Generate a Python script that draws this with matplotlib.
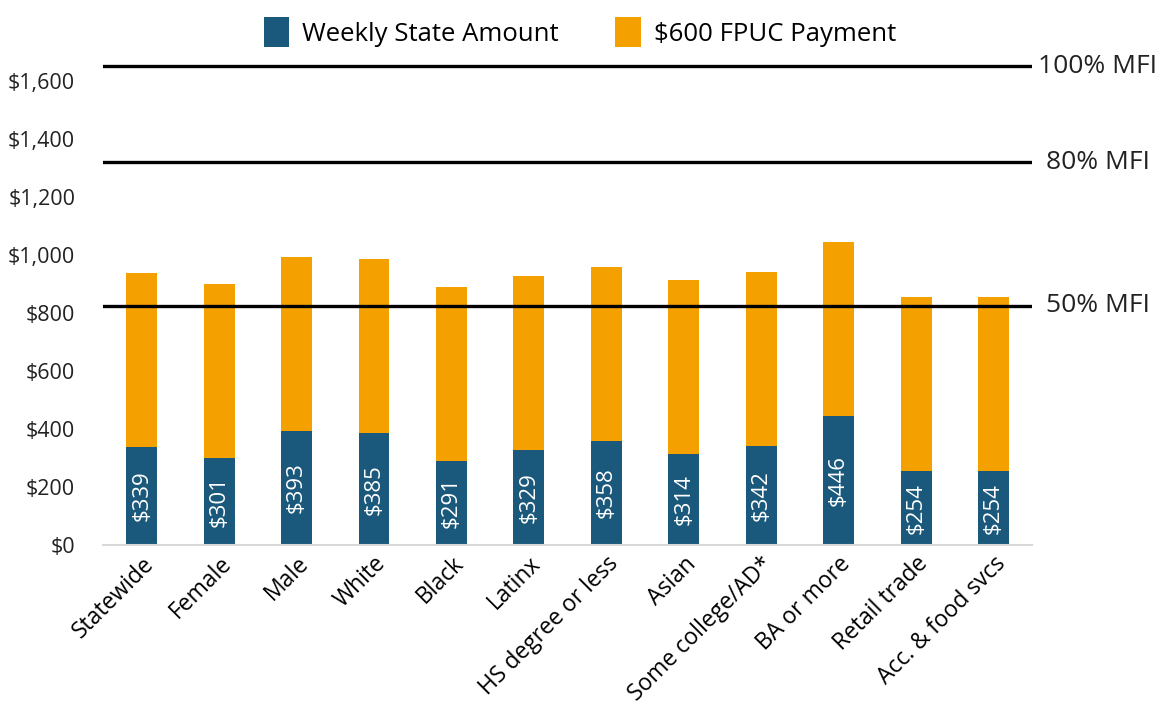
import matplotlib.pyplot as plt
import numpy as np

plt.rcParams['font.family'] = ['Open Sans', 'DejaVu Sans']

categories = ["Statewide", "Female", "Male", "White", "Black", "Latinx",
              "HS degree or less", "Asian", "Some college/AD*", "BA or more",
              "Retail trade", "Acc. & food svcs"]
state_amount = [339, 301, 393, 385, 291, 329, 358, 314, 342, 446, 254, 254]
fpuc = [600] * 12
mfi_levels = [1650, 1320, 825]
mfi_labels = ["100% MFI", "80% MFI", "50% MFI"]

blue = "#1A587C"
orange = "#F4A100"

fig = plt.figure(figsize=(11.6, 7.05), dpi=100)
ax = fig.add_axes([0.0888, 0.227, 0.801, 0.6993])

x = np.arange(len(categories))
b1 = ax.bar(x, state_amount, width=0.4, color=blue, label="Weekly State Amount")
b2 = ax.bar(x, fpuc, width=0.4, bottom=state_amount, color=orange,
            label="$600 FPUC Payment")

for xi, v in zip(x, state_amount):
    ax.text(xi, v / 2, f"${v}", rotation=90, ha='center', va='center',
            color='white', fontsize=16)

for lvl, lab in zip(mfi_levels, mfi_labels):
    ax.axhline(lvl, color='black', lw=2.4, zorder=3)
    ax.annotate(lab, xy=(1.0, lvl), xycoords=('axes fraction', 'data'),
                xytext=(0.9466, 0), textcoords=('figure fraction', 'offset points'),
                ha='center', va='center', fontsize=19, color='#222222')

ax.set_xlim(-0.5, len(categories) - 0.5)
ax.set_ylim(0, 1700)
ax.set_yticks(np.arange(0, 1601, 200))
ax.set_yticklabels([f"${v:,}" for v in range(0, 1601, 200)], fontsize=15.5, color='#222222')
ax.set_xticks(x)
ax.set_xticklabels(categories, rotation=45, ha='right', rotation_mode='anchor',
                   fontsize=16.5, color='black')
ax.tick_params(axis='both', length=0)
ax.tick_params(axis='y', pad=20)
ax.tick_params(axis='x', pad=5)

for s in ['top', 'right', 'left']:
    ax.spines[s].set_visible(False)
ax.spines['bottom'].set_color('#D9D9D9')
ax.spines['bottom'].set_linewidth(1.5)

fig.legend(handles=[b1, b2], loc='upper center', bbox_to_anchor=(0.5, 1.008),
           ncol=2, frameon=False, fontsize=18.5, handlelength=1.0, handleheight=1.4,
           handletextpad=0.5, columnspacing=2.2)

plt.savefig("out.png", dpi=100)
